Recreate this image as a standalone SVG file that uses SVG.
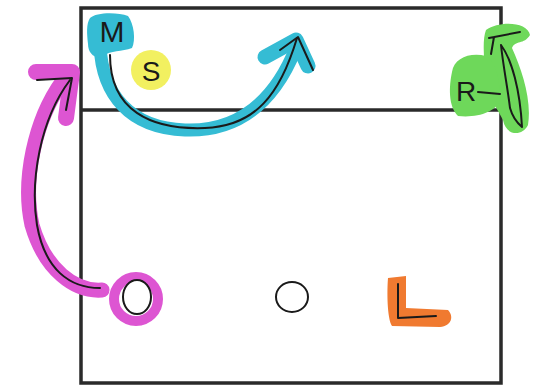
<svg xmlns="http://www.w3.org/2000/svg" width="545" height="387" viewBox="0 0 545 387">
<style>
.ink{fill:none;stroke:#1a1a1a;stroke-width:2;stroke-linecap:round;stroke-linejoin:round}
.wall{fill:none;stroke:#2a2a2a;stroke-width:3.5}
.lbl{font-family:"Liberation Sans",Arial,sans-serif;fill:#1a1a1a;text-anchor:middle}
.hl{stroke-linecap:round;stroke-linejoin:round;fill:none}
</style>
<rect width="545" height="387" fill="#ffffff"/>
<g id="court">
<rect class="wall" x="81" y="8" width="420" height="375"/>
<line class="wall" x1="81" y1="110" x2="501" y2="110"/>
</g>
<g id="connectors">
<g id="arrow-m">
<path class="hl" stroke="#35bcd4" stroke-width="13" d="M100 45 C102 95 130 128 185 130 C240 132 275 100 296 48"/>
<path class="hl" stroke="#35bcd4" stroke-width="15" d="M265 57 L296 40 L308 66"/>
<path class="ink" d="M110 55 C110 110 150 130 205 128 C255 126 280 95 297 38"/>
<path class="ink" d="M280 50 L298 37 L313 70"/>
</g>
<g id="arrow-o">
<path class="hl" stroke="#dd55d2" stroke-width="15" d="M102 290 C75 292 45 270 32 225 C22 180 35 120 62 82"/>
<path class="hl" stroke="#dd55d2" stroke-width="16" d="M36 72 L72 72 L66 118"/>
<path class="ink" d="M100 288 C70 288 45 270 37 225 C30 180 40 120 70 80"/>
<path class="ink" d="M37 80 L72 78 L66 110"/>
</g>
<g id="arrow-r">
<path fill="#6ed85a" d="M486 30 C500 20 528 22 530 35 C524 45 515 40 512 48 C522 70 532 100 528 125 C522 137 506 136 503 120 C498 110 490 100 486 80 C484 60 482 40 486 30 Z"/>
<path class="ink" d="M489 38 L520 32 M494 37 L491 54"/>
<path class="ink" d="M501 45 C512 60 520 90 522 127 C516 122 512 115 510 108 C508 90 503 65 501 45"/>
</g>
</g>
<g id="node-m">
<path fill="#35bcd4" d="M90 18 C96 12 118 12 128 16 C134 24 136 40 132 48 C122 52 110 50 104 56 C96 60 88 54 88 44 C87 34 86 24 90 18 Z"/>
<text class="lbl" x="112" y="42" font-size="30">M</text>
</g>
<g id="node-s">
<circle cx="151" cy="70" r="20" fill="#f2f060"/>
<text class="lbl" x="151" y="81" font-size="28">S</text>
</g>
<g id="node-r">
<path fill="#6ed85a" d="M452 72 C454 58 470 52 486 56 C496 62 500 80 500 100 C496 112 478 118 458 116 C448 106 449 86 452 72 Z"/>
<text class="lbl" x="466" y="101" font-size="28">R</text>
<path class="ink" d="M478 92 L500 94"/>
</g>
<g id="node-o1">
<circle cx="136" cy="299" r="22" fill="none" stroke="#dd55d2" stroke-width="10"/>
<ellipse cx="137" cy="297" rx="14" ry="17" fill="#ffffff" stroke="#1a1a1a" stroke-width="2"/>
</g>
<g id="node-o2">
<ellipse cx="292" cy="297" rx="16" ry="15" fill="none" stroke="#1a1a1a" stroke-width="2"/>
</g>
<g id="node-l">
<path fill="#f07a30" d="M388 278 L406 276 L406 308 L448 310 C454 316 452 326 440 327 L392 326 C387 318 387 290 388 278 Z"/>
<path class="ink" d="M398 284 L398 318 L436 316"/>
</g>
</svg>
